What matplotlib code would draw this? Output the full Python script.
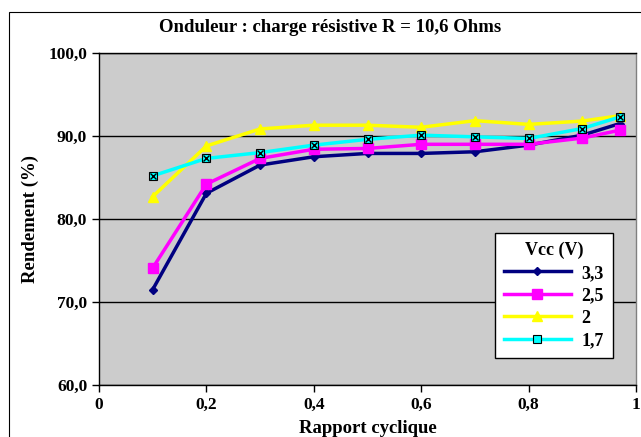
import matplotlib
matplotlib.use("Agg")
import matplotlib.pyplot as plt
from matplotlib.ticker import FuncFormatter, MultipleLocator
from matplotlib.patches import Rectangle

plt.rcParams['font.family'] = ['Liberation Serif', 'DejaVu Serif']
plt.rcParams['font.weight'] = 'bold'

# rapport cyclique
x = [0.1, 0.2, 0.3, 0.4, 0.5, 0.6, 0.7, 0.8, 0.9, 0.97]

# rendement (%) pour chaque Vcc
r33 = [71.5, 83.1, 86.5, 87.5, 87.9, 87.9, 88.1, 88.9, 90.1, 91.5]
r25 = [74.1, 84.2, 87.3, 88.4, 88.5, 89.0, 89.0, 89.0, 89.75, 90.7]
r20 = [82.7, 88.8, 90.85, 91.3, 91.3, 91.05, 91.85, 91.4, 91.8, 92.45]
r17 = [85.2, 87.3, 88.0, 88.9, 89.6, 90.1, 89.9, 89.7, 90.9, 92.3]

fig = plt.figure(figsize=(6.41, 4.37), dpi=100)
ax = fig.add_axes([99/641, 52/437, (636-99)/641, 332/437])
ax.set_facecolor('#cccccc')

# bordure du graphique (coupee a droite et en bas)
fig.patches.append(Rectangle((8.5/641, -0.1), 1.2, 1.1 - 12/437, transform=fig.transFigure,
                             fill=False, edgecolor='black', linewidth=0.8))

lw = 2.5
ax.plot(x, r33, color='#000080', lw=lw, marker='D', ms=4, label='3,3', zorder=3)
ax.plot(x, r25, color='#ff00ff', lw=lw, marker='s', ms=6.5, label='2,5', zorder=3)
ax.plot(x, r20, color='#ffff00', lw=lw, marker='^', ms=6.5, label='2', zorder=3)
ax.plot(x, r17, color='#00ffff', lw=lw, marker='s', ms=5.5, mfc='#00ffff', mec='black',
        mew=0.8, label='1,7', zorder=4)
ax.plot(x, r17, ls='none', marker='x', ms=4.5, color='black', mew=1.0, zorder=5)

ax.set_xlim(0, 1)
ax.set_ylim(60, 100)
ax.yaxis.set_major_locator(MultipleLocator(10))
ax.xaxis.set_major_locator(MultipleLocator(0.2))
ax.grid(axis='y', color='black', lw=1.0)
ax.set_axisbelow(True)

ax.yaxis.set_major_formatter(FuncFormatter(lambda v, p: ('%.1f' % v).replace('.', ',')))
ax.xaxis.set_major_formatter(FuncFormatter(lambda v, p: ('%g' % round(v, 2)).replace('.', ',')))
ax.tick_params(labelsize=12.5, direction='out', length=5, width=1)
for t in ax.get_xticklabels() + ax.get_yticklabels():
    t.set_fontweight('bold')

for s in ['top', 'left', 'bottom']:
    ax.spines[s].set_color('black')
    ax.spines[s].set_linewidth(1)
ax.spines['right'].set_color('#808080')
ax.spines['right'].set_linewidth(1)

ax.set_xlabel('Rapport cyclique', fontsize=13.5, fontweight='bold', labelpad=5)
ax.set_ylabel('Rendement (%)', fontsize=13.5, fontweight='bold', labelpad=7)
fig.text(330/641, 1 - 28/437, 'Onduleur : charge résistive R = 10,6 Ohms',
         ha='center', va='center', fontsize=13.5, fontweight='bold')

leg = ax.legend(title='Vcc (V)', loc='upper left', bbox_to_anchor=(495/641, 1 - 233/437),
                bbox_transform=fig.transFigure, borderaxespad=0, fancybox=False, framealpha=1,
                edgecolor='black', fontsize=13, title_fontsize=13,
                handlelength=3.7, borderpad=0.5, labelspacing=0.3, handletextpad=0.6)
leg.get_title().set_fontweight('bold')
leg.get_frame().set_linewidth(1)
for t in leg.get_texts():
    t.set_fontweight('bold')

fig.savefig('out.png', dpi=100)
